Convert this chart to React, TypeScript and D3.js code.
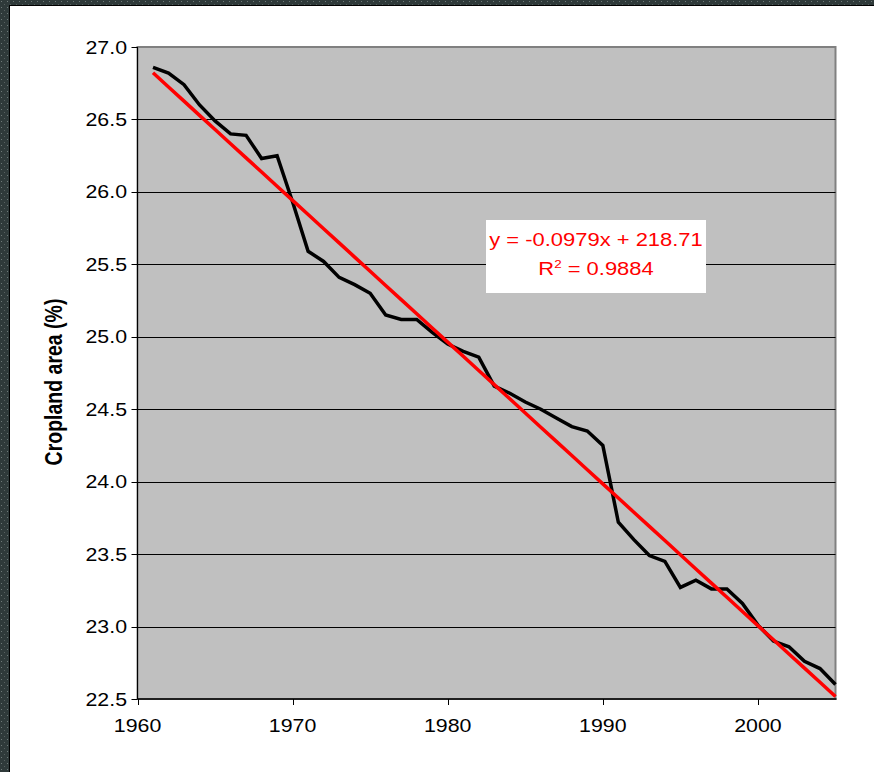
import React from "react";
import * as d3 from "d3";

// Share of land area under crops, by year
const years: number[] = [
  1961, 1962, 1963, 1964, 1965, 1966, 1967, 1968, 1969, 1970,
  1971, 1972, 1973, 1974, 1975, 1976, 1977, 1978, 1979, 1980,
  1981, 1982, 1983, 1984, 1985, 1986, 1987, 1988, 1989, 1990,
  1991, 1992, 1993, 1994, 1995, 1996, 1997, 1998, 1999, 2000,
  2001, 2002, 2003, 2004, 2005,
];
const cropland: number[] = [
  26.86, 26.82, 26.74, 26.6, 26.49, 26.4, 26.39, 26.23, 26.25, 25.93,
  25.59, 25.52, 25.41, 25.36, 25.3, 25.15, 25.12, 25.12, 25.03, 24.95,
  24.9, 24.86, 24.66, 24.61, 24.55, 24.5, 24.44, 24.38, 24.35, 24.25,
  23.72, 23.6, 23.49, 23.45, 23.27, 23.32, 23.26, 23.26, 23.16, 23.01,
  22.9, 22.86, 22.76, 22.71, 22.6,
];
const yTicks: number[] = [22.5, 23, 23.5, 24, 24.5, 25, 25.5, 26, 26.5, 27];
const xTicks: number[] = [1960, 1970, 1980, 1990, 2000];
const equationText = "y = -0.0979x + 218.71";
const r2Value = "0.9884";
const yTitle = "Cropland area (%)";

const W = 874;
const H = 772;
const plot = { left: 137.5, right: 835.5, top: 47, bottom: 699 };
const FONT = "'Liberation Sans', Arial, sans-serif";
const SX = 1.22; // horizontal stretch of the text glyphs

// Ordinary least-squares fit for the trendline
function linearFit(xs: number[], ys: number[]) {
  const mx = d3.mean(xs)!;
  const my = d3.mean(ys)!;
  let num = 0;
  let den = 0;
  xs.forEach((x, i) => {
    num += (x - mx) * (ys[i] - my);
    den += (x - mx) * (x - mx);
  });
  const slope = num / den;
  return { slope, intercept: my - slope * mx };
}

function SText(props: {
  x: number;
  y: number;
  size: number;
  anchor?: "start" | "middle" | "end";
  fill?: string;
  weight?: string;
  children: React.ReactNode;
}) {
  const { x, y, size, anchor = "start", fill = "#000", weight = "normal" } = props;
  return (
    <text
      transform={`translate(${x},${y}) scale(${SX},1)`}
      fontFamily={FONT}
      fontSize={size}
      fontWeight={weight}
      textAnchor={anchor}
      fill={fill}
    >
      {props.children}
    </text>
  );
}

export default function App() {
  const x = d3.scaleLinear().domain([1960, 2005]).range([plot.left, plot.right]);
  const y = d3.scaleLinear().domain([22.5, 27]).range([plot.bottom, plot.top]);

  const pts: [number, number][] = years.map((yr, i) => [yr, cropland[i]]);
  const line = d3
    .line<[number, number]>()
    .x((d) => x(d[0]))
    .y((d) => y(d[1]));

  const fit = linearFit(years, cropland);
  const trendPts: [number, number][] = years.map((yr) => [yr, fit.slope * yr + fit.intercept]);

  const boxX = 486;
  const boxY = 220;
  const boxW = 220;
  const boxH = 73;

  return (
    <svg
      width={W}
      height={H}
      viewBox={`0 0 ${W} ${H}`}
      style={{ position: "absolute", left: 0, top: 0, display: "block" }}
    >
      <defs>
        <pattern id="frameDots" width="6" height="6" patternUnits="userSpaceOnUse">
          <rect width="6" height="6" fill="#2f3a3a" />
          <rect x="1" y="1" width="1" height="1" fill="#6f7a79" />
          <rect x="4" y="4" width="1" height="1" fill="#56605f" />
        </pattern>
      </defs>

      {/* page and window frame */}
      <rect width={W} height={H} fill="#fff" />
      <rect x={0} y={0} width={W} height={5} fill="url(#frameDots)" />
      <rect x={0} y={0} width={9} height={H} fill="url(#frameDots)" />
      <line x1={9.5} y1={5} x2={9.5} y2={H} stroke="#000" strokeWidth={1} />
      <line x1={9} y1={5.5} x2={W} y2={5.5} stroke="#000" strokeWidth={1} />

      {/* plot area */}
      <rect
        x={plot.left}
        y={plot.top}
        width={plot.right - plot.left}
        height={plot.bottom - plot.top}
        fill="#c0c0c0"
        stroke="#808080"
        strokeWidth={2}
      />

      {/* gridlines */}
      {yTicks
        .filter((t) => t > 22.5 && t < 27)
        .map((t) => (
          <line
            key={`g${t}`}
            x1={plot.left}
            x2={plot.right}
            y1={Math.round(y(t)) + 0.5}
            y2={Math.round(y(t)) + 0.5}
            stroke="#000"
            strokeWidth={1}
          />
        ))}

      {/* axes */}
      <line x1={plot.left} x2={plot.left} y1={plot.top} y2={plot.bottom} stroke="#000" strokeWidth={1} />
      <line x1={plot.left} x2={plot.right + 1} y1={plot.bottom} y2={plot.bottom} stroke="#000" strokeWidth={1.5} />

      {yTicks.map((t) => (
        <g key={`y${t}`}>
          <line
            x1={plot.left - 6}
            x2={plot.left}
            y1={Math.round(y(t)) + 0.5}
            y2={Math.round(y(t)) + 0.5}
            stroke="#000"
          />
          <SText x={127} y={y(t) + 6.5} size={17.5} anchor="end">
            {d3.format(".1f")(t)}
          </SText>
        </g>
      ))}

      {xTicks.map((t) => (
        <g key={`x${t}`}>
          <line
            x1={Math.round(x(t)) + 0.5}
            x2={Math.round(x(t)) + 0.5}
            y1={plot.bottom}
            y2={plot.bottom + 6}
            stroke="#000"
          />
          <SText x={x(t)} y={732} size={17.5} anchor="middle">
            {t}
          </SText>
        </g>
      ))}

      {/* y axis title */}
      <text
        transform={`translate(62,382) rotate(-90) scale(1,${SX})`}
        fontFamily={FONT}
        fontSize={19.5}
        fontWeight="bold"
        textAnchor="middle"
      >
        {yTitle}
      </text>

      {/* series */}
      <path d={line(pts) ?? ""} fill="none" stroke="#000" strokeWidth={3.5} strokeLinejoin="miter" />
      <path d={line(trendPts) ?? ""} fill="none" stroke="#ff0000" strokeWidth={3.5} />

      {/* trendline equation */}
      <rect x={boxX} y={boxY} width={boxW} height={boxH} fill="#fff" />
      <SText x={boxX + boxW / 2} y={246} size={18} anchor="middle" fill="#ff0000">
        {equationText}
      </SText>
      <SText x={boxX + boxW / 2} y={275} size={18} anchor="middle" fill="#ff0000">
        R<tspan dy={-7} fontSize={11}>2</tspan>
        <tspan dy={7}> = {r2Value}</tspan>
      </SText>
    </svg>
  );
}
